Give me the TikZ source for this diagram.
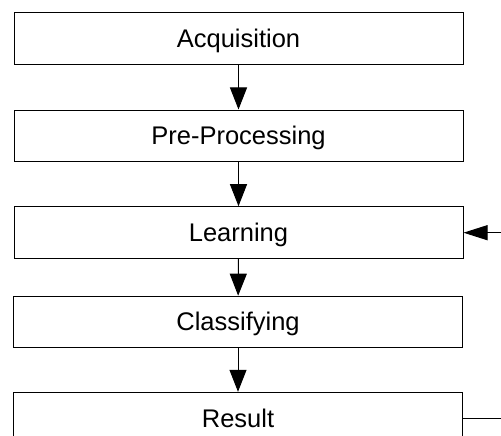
\documentclass[tikz,border=0pt]{standalone}
\usepackage{fontspec}
\setmainfont{Liberation Sans}
\usetikzlibrary{arrows.meta}
\begin{document}
\begin{tikzpicture}[x=1pt,y=-1pt,
  stage/.style={draw=black, line width=1pt, minimum width=449pt, inner sep=0pt,
    font=\fontsize{25.5pt}{29pt}\selectfont, text height=18.2pt, text depth=0pt},
  flow/.style={line width=1pt, -{Triangle[length=22pt,width=17pt]}},
  back/.style={line width=1pt, -{Triangle[length=24pt,width=15pt]}}]
  \useasboundingbox (0,0) rectangle (501,436);
  \clip (0,0) rectangle (501,436);
  \node[stage, minimum height=52.5pt] (acq)   at (238.5,38.5)  {Acquisition};
  \node[stage, minimum height=51pt]   (pre)   at (238.5,135.5) {Pre-Processing};
  \node[stage, minimum height=52pt]   (learn) at (238.5,232.7) {Learning};
  \node[stage, minimum height=51pt]   (cls)   at (238,321.7)   {Classifying};
  \node[stage, minimum height=52pt]   (res)   at (238,418.3)   {Result};
  \draw[flow] (acq) -- (pre);
  \draw[flow] (pre) -- (learn);
  \draw[flow] (learn) -- (cls);
  \draw[flow] (cls) -- (res);
  \draw[back] (res.east) -- ++(60,0) |- (learn.east);
\end{tikzpicture}
\end{document}
